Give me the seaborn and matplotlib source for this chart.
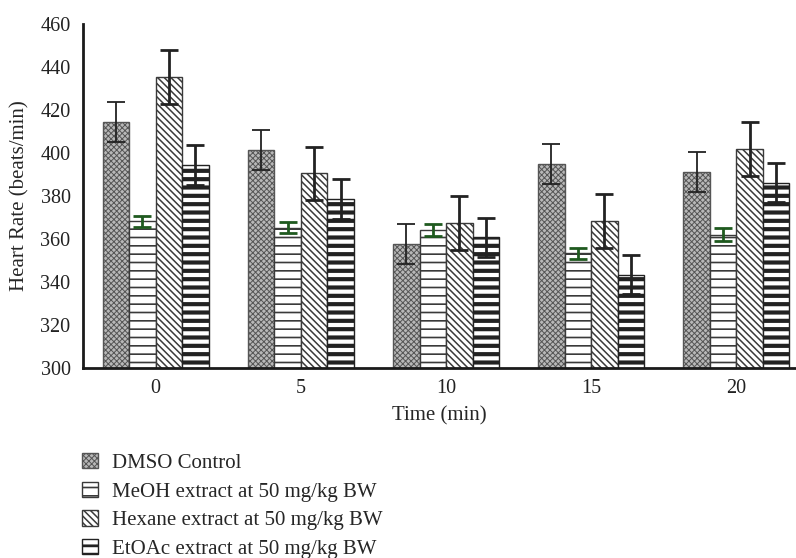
import numpy as np
import pandas as pd
import seaborn as sns
import matplotlib
matplotlib.use("Agg")
import matplotlib.pyplot as plt
from matplotlib.patches import Patch

sns.set_style("white")
plt.rcParams['font.family'] = ['Liberation Serif', 'DejaVu Serif']

times = ["0", "5", "10", "15", "20"]
series = [
    "DMSO Control",
    "MeOH extract at 50 mg/kg BW",
    "Hexane extract at 50 mg/kg BW",
    "EtOAc extract at 50 mg/kg BW",
]
dmso = [414.5, 401.2, 357.7, 394.9, 391.0]
dmso_err = [9.4, 9.3, 9.5, 9.3, 9.3]
meoh = [368.3, 365.3, 364.2, 353.3, 362.0]
meoh_err = [2.5, 2.5, 2.7, 2.7, 2.9]
hexane = [435.5, 390.5, 367.3, 368.5, 401.7]
hexane_err = [12.5, 12.4, 12.5, 12.5, 12.6]
etoac = [394.4, 378.6, 360.8, 343.3, 386.2]
etoac_err = [9.3, 9.1, 9.2, 9.1, 9.1]

values = [dmso, meoh, hexane, etoac]
errors = [dmso_err, meoh_err, hexane_err, etoac_err]

# styles per series
faces = ["#b8b8b8", "white", "white", "white"]
edges = ["#555555", "#3a3a3a", "#3a3a3a", "#222222"]
hatches = ["xxxxxx", "--", "\\\\\\\\\\", "--"]
hatch_lw = [0.7, 1.2, 1.1, 3.0]
err_colors = ["#222222", "#1f5a1f", "#222222", "#222222"]
err_lw = [1.3, 2.0, 2.0, 2.0]


def set_hatch_lw(p, w):
    if hasattr(p, "set_hatch_linewidth"):
        p.set_hatch_linewidth(w)
    elif hasattr(p, "_hatch_linewidth"):
        p._hatch_linewidth = w


rows = []
for s, vals in zip(series, values):
    for t, v in zip(times, vals):
        rows.append({"time": t, "series": s, "rate": v})
df = pd.DataFrame(rows)

fig = plt.figure(figsize=(7.96, 5.58), dpi=100)
ax = fig.add_axes([83 / 796, 1 - 368 / 558, 713 / 796, 344 / 558])

sns.barplot(data=df, x="time", y="rate", hue="series", order=times,
            hue_order=series, palette=["white"] * 4, width=0.73,
            errorbar=None, legend=False, ax=ax, saturation=1)

bar_conts = list(ax.containers)
for i, cont in enumerate(bar_conts):
    xs = []
    for bar in cont:
        bar.set_facecolor(faces[i])
        bar.set_edgecolor(edges[i])
        bar.set_hatch(hatches[i])
        bar.set_linewidth(1.0)
        set_hatch_lw(bar, hatch_lw[i])
        xs.append(bar.get_x() + bar.get_width() / 2)
    ax.errorbar(xs, values[i], yerr=errors[i], fmt="none",
                ecolor=err_colors[i], elinewidth=err_lw[i],
                capsize=6.5, capthick=err_lw[i], zorder=5)

ax.set_ylim(300, 460)
ax.set_yticks(np.arange(300, 461, 20))
ax.set_xlim(-0.5, 4.41)
ax.set_xlabel("Time (min)", fontsize=15, labelpad=6)
ax.set_ylabel("Heart Rate (beats/min)", fontsize=15, labelpad=8)
ax.tick_params(axis="both", length=0, labelsize=14.5, colors="#222222")
ax.tick_params(axis="x", pad=8)
ax.tick_params(axis="y", pad=9)
for side in ["top", "right"]:
    ax.spines[side].set_visible(False)
for side in ["left", "bottom"]:
    ax.spines[side].set_color("#1a1a1a")
    ax.spines[side].set_linewidth(2.0)

handles = []
for i in range(4):
    h = Patch(facecolor=faces[i], edgecolor=edges[i], hatch=hatches[i])
    set_hatch_lw(h, hatch_lw[i])
    handles.append(h)
leg = fig.legend(handles, series, loc="upper left",
                 bbox_to_anchor=(82 / 796, 1 - 453 / 558), frameon=False,
                 fontsize=15, handlelength=0.75, handleheight=0.75,
                 handletextpad=0.7, labelspacing=0.42, borderpad=0,
                 borderaxespad=0)
for h, w in zip(leg.legend_handles, hatch_lw):
    set_hatch_lw(h, min(w, 2.0))

fig.savefig("out.png", dpi=100)
